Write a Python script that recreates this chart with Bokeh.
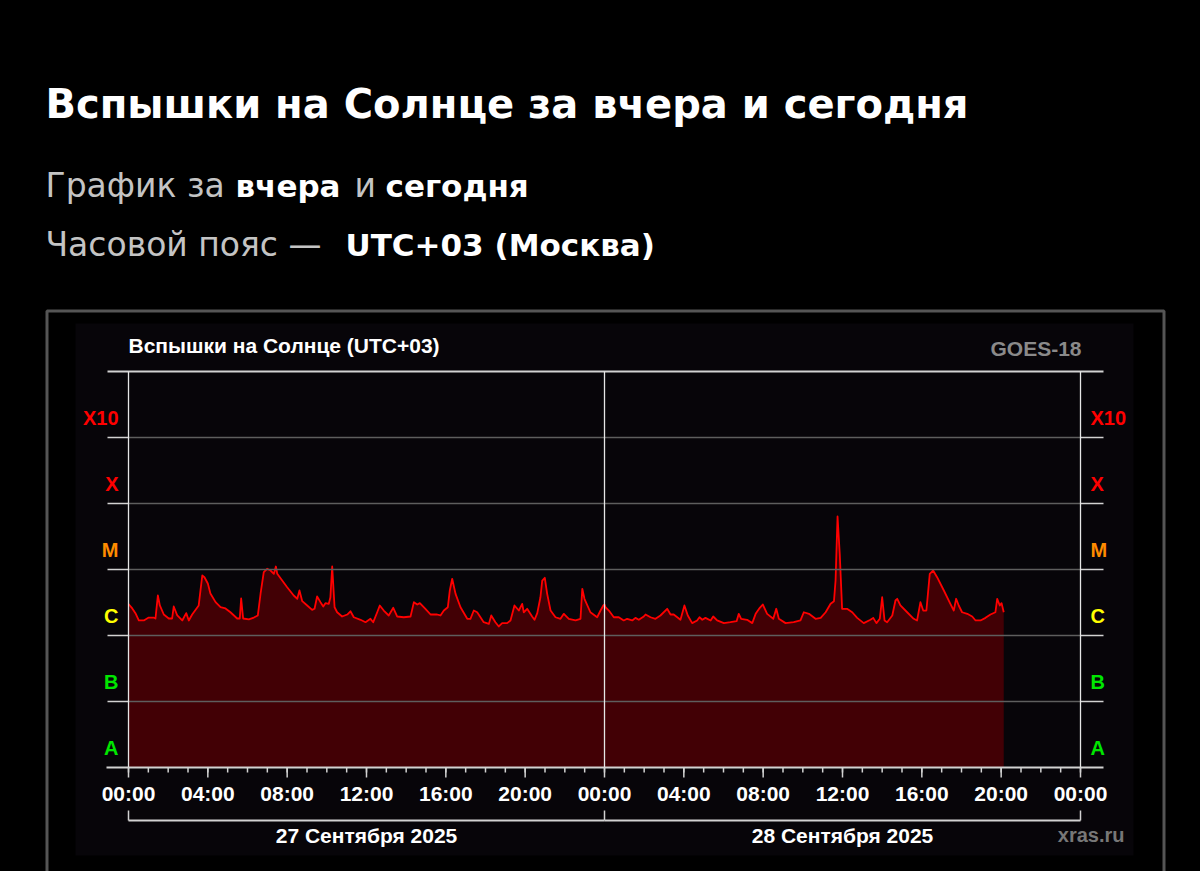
from bokeh.plotting import figure
from bokeh.models import Range1d, LinearScale, ColumnDataSource
from bokeh.core.properties import value
from bokeh.embed import file_html
from bokeh.resources import INLINE

# ---------------- data ----------------
# hours since 27 Sep 2025 00:00 (UTC+03)
hours = [0.00, 0.19, 0.35, 0.52, 0.77, 1.02, 1.26, 1.36, 1.48, 1.58, 1.78, 2.03, 2.20, 2.28, 2.46,
         2.71, 2.91, 3.04, 3.21, 3.54, 3.63, 3.72, 3.83, 4.00, 4.13, 4.39, 4.64, 4.89, 5.14, 5.48,
         5.61, 5.68, 5.78, 6.07, 6.32, 6.52, 6.66, 6.82, 6.99, 7.16, 7.33, 7.43, 7.50, 7.75, 8.00,
         8.33, 8.51, 8.62, 8.76, 9.01, 9.26, 9.38, 9.51, 9.68, 9.82, 9.93, 10.10, 10.18, 10.27, 10.39,
         10.52, 10.77, 11.03, 11.19, 11.36, 11.70,
         11.95, 12.20, 12.34, 12.54, 12.67, 12.87, 13.12, 13.35, 13.55, 13.88, 14.22, 14.39, 14.56, 14.69, 14.97,
         15.23, 15.56, 15.73, 15.90, 16.10, 16.20, 16.32, 16.49, 16.74, 17.08, 17.24, 17.41, 17.58, 17.91, 18.17,
         18.29, 18.50, 18.67, 18.84, 19.09, 19.26, 19.46, 19.68, 19.85, 19.93, 20.10, 20.35, 20.47, 20.61, 20.77,
         20.86, 20.99, 21.11, 21.28, 21.53, 21.78, 21.95, 22.20, 22.54, 22.79, 22.88, 22.99, 23.29, 23.63, 23.80,
         23.94, 24.00, 24.05, 24.22, 24.47, 24.72, 24.97, 25.14, 25.40, 25.56, 25.73, 25.98, 26.07, 26.32, 26.57,
         26.82, 27.16, 27.33, 27.49, 27.83, 28.03, 28.20, 28.42, 28.67, 28.79, 28.93, 29.09, 29.35, 29.48, 29.68,
         30.02, 30.35, 30.66, 30.77, 30.89, 31.19, 31.45, 31.62, 31.83, 31.98, 32.20, 32.51, 32.66, 32.79, 33.13,
         33.54, 33.88, 34.05, 34.31, 34.64, 34.90, 35.15, 35.40, 35.57, 35.65, 35.75, 35.86, 35.98, 36.23, 36.49,
         36.74, 37.07, 37.41, 37.55, 37.71, 37.88, 38.00, 38.12, 38.25, 38.51, 38.67, 38.76, 38.92, 39.26, 39.59,
         39.76, 39.93, 40.07, 40.23, 40.40, 40.57, 40.77, 41.11, 41.44, 41.61, 41.73, 41.86, 42.03, 42.29, 42.54,
         42.71, 42.96, 43.21, 43.46, 43.71, 43.80, 43.93, 44.02, 44.13]

# X-ray flux, in units of 1e-6 W/m^2
flux_micro = [3.0, 2.57, 2.18, 1.69, 1.69, 1.87, 1.87, 1.81, 4.04, 2.85, 2.08, 1.81, 1.81, 2.75, 2.01,
              1.69, 2.18, 1.69, 2.08, 2.85, 4.81, 8.11, 7.64, 6.14, 4.33, 3.20, 2.68, 2.57, 2.25, 1.81,
              1.81, 3.64, 1.81, 1.75, 1.87, 2.01, 4.33, 9.10, 10.25, 9.66, 8.61, 11.1, 8.61, 6.81, 5.39,
              4.04, 3.60, 4.81, 3.31, 2.85, 2.45, 2.54, 3.90, 3.20, 2.75, 3.09, 3.02, 3.80, 11.1, 2.68,
              2.25, 1.94, 2.08, 2.33, 1.89, 1.73,
              1.59, 1.79, 1.59, 2.25, 2.85, 2.39, 2.01, 2.63, 1.94, 1.89, 1.94, 3.20, 2.95, 3.09, 2.54,
              2.08, 2.08, 2.01, 2.39, 2.68, 4.81, 7.23, 4.28, 2.68, 1.79, 1.79, 2.39, 2.25, 1.59, 1.50,
              2.01, 1.59, 1.37, 1.54, 1.54, 1.69, 2.85, 2.39, 3.02, 2.25, 2.54, 1.94, 1.73, 2.18, 3.80,
              6.81, 7.48, 4.28, 2.39, 1.89, 1.79, 2.13, 1.79, 1.69, 1.79, 5.10, 3.60, 2.25, 1.89, 2.39,
              2.85, 2.95, 2.68, 2.39, 1.89, 1.89, 1.69, 1.79, 1.69, 1.85, 1.73, 1.94, 2.08, 1.89, 1.79,
              2.01, 2.54, 2.08, 2.08, 1.73, 2.85, 2.01, 1.54, 1.69, 1.89, 1.73, 1.85, 1.69, 1.94, 1.69,
              1.54, 1.59, 1.65, 2.13, 1.79, 1.73, 1.54, 2.13, 2.63, 2.95, 2.13, 1.79, 2.54, 1.79, 1.54,
              1.59, 1.69, 2.25, 2.13, 1.79, 1.85, 2.25, 3.02, 3.31, 6.81, 63.5, 17.5, 2.54, 2.54, 2.25,
              1.85, 1.54, 1.73, 1.85, 1.54, 1.79, 3.80, 1.69, 1.59, 2.01, 3.39, 3.60, 2.85, 2.25, 1.79,
              1.69, 3.20, 2.39, 2.39, 8.61, 9.66, 7.64, 4.81, 3.02, 2.39, 3.60, 2.85, 2.25, 2.13, 1.94,
              1.69, 1.69, 1.85, 2.08, 2.25, 3.60, 2.85, 3.09, 2.25]

class_labels = ["A", "B", "C", "M", "X", "X10"]
class_flux = [1e-8, 1e-7, 1e-6, 1e-5, 1e-4, 1e-3]
class_colors = ["#00e600", "#00e600", "#ffff00", "#ff8c00", "#ff0000", "#ff0000"]
top_flux = 1e-2

tick_hours = [0, 4, 8, 12, 16, 20, 24, 28, 32, 36, 40, 44, 48]
tick_labels = ["00:00", "04:00", "08:00", "12:00", "16:00", "20:00", "00:00",
               "04:00", "08:00", "12:00", "16:00", "20:00", "00:00"]
minor_hours = list(range(0, 49))
day_start = [0, 24]
day_end = [24, 48]
day_labels = ["27 Сентября 2025", "28 Сентября 2025"]

page_title = "Вспышки на Солнце за вчера и сегодня"
chart_title = "Вспышки на Солнце (UTC+03)"
satellite = "GOES-18"
credit = "xras.ru"

# ---------------- layout (page pixels) ----------------
W, H = 1200, 871
PX0, PY0 = 0, 0
X_H0 = 128.0           # page x of hour 0
PX_PER_H = 952.0 / 48  # px per hour
Y_BASE = 767.0         # page y of 1e-8
PX_PER_DEC = 66.0

t0 = (PX0 - X_H0) / PX_PER_H
t1 = (PX0 + W - X_H0) / PX_PER_H
lg_lo = -8 - (PY0 + H - Y_BASE) / PX_PER_DEC
lg_hi = -8 + (Y_BASE - PY0) / PX_PER_DEC

FONT = value("Liberation Sans")
HFONT = value("DejaVu Sans")

p = figure(width=W, height=H, x_range=Range1d(t0, t1),
           y_range=Range1d(10 ** lg_lo, 10 ** lg_hi), y_axis_type="log",
           x_axis_location=None, y_axis_location=None, title_location=None,
           output_backend="svg", toolbar_location=None, min_border=0,
           background_fill_color="#000000", border_fill_color="#000000",
           outline_line_color=None)
p.grid.visible = False
p.extra_x_ranges = {"px": Range1d(PX0, PX0 + W)}
p.extra_y_ranges = {"px": Range1d(PY0 + H, PY0)}
p.extra_x_scales = {"px": LinearScale()}
p.extra_y_scales = {"px": LinearScale()}
PX = dict(x_range_name="px", y_range_name="px")

# page header
p.text(x=[45], y=[103], text=[page_title], text_font=HFONT, text_font_size="40px",
       text_font_style="bold", text_color="#ffffff", text_baseline="middle", **PX)
GREY = "#c4c4c4"
for xx, yy, tt, bold in [(45, 185, "График за", False), (235, 185, "вчера", True),
                         (354, 185, "и", False), (385, 185, "сегодня", True),
                         (45, 244, "Часовой пояс —", False), (345, 244, "UTC+03 (Москва)", True)]:
    p.text(x=[xx], y=[yy], text=[tt], text_font=HFONT,
           text_font_size="31px" if bold else "33px",
           text_font_style="bold" if bold else "normal",
           text_color="#ffffff" if bold else GREY, text_baseline="middle", **PX)

# frame box and chart panel
p.quad(left=[46.5], right=[1163.5], top=[310.5], bottom=[920], fill_color=None,
       line_color="#555555", line_width=3, **PX)
p.quad(left=[75], right=[1133], top=[323], bottom=[855], fill_color="#070509",
       line_color=None, **PX)

# chart title / satellite
p.text(x=[128], y=[344.5], text=[chart_title], text_font=FONT, text_font_size="21px",
       text_font_style="bold", text_color="#ffffff", text_baseline="middle", **PX)
p.text(x=[1081], y=[348], text=[satellite], text_font=FONT, text_font_size="21px",
       text_font_style="bold", text_color="#8a8a8a", text_align="right",
       text_baseline="middle", **PX)

# data: filled area + line
src = ColumnDataSource(dict(t=hours, f=[v * 1e-6 for v in flux_micro],
                            base=[class_flux[0]] * len(hours)))
p.varea(x="t", y1="base", y2="f", source=src, fill_color="#420005")
p.line(x="t", y="f", source=src, line_color="#ff0000", line_width=1.8, line_join="round")

# horizontal class grid (inside) and tick stubs (outside)
LIGHT = "#d2d2d2"
p.segment(x0=[0] * 5, x1=[48] * 5, y0=class_flux[1:], y1=class_flux[1:],
          line_color="#5e5e5e", line_width=1.5)
stub_y = class_flux[1:]
p.segment(x0=[107] * 5, x1=[X_H0] * 5, y0=stub_y, y1=stub_y, line_color=LIGHT,
          line_width=1.5, x_range_name="px")
p.segment(x0=[X_H0 + 48 * PX_PER_H] * 5, x1=[1103] * 5, y0=stub_y, y1=stub_y,
          line_color=LIGHT, line_width=1.5, x_range_name="px")
# top and bottom lines
p.segment(x0=[107, 106], x1=[1103, 1103], y0=[top_flux, class_flux[0]],
          y1=[top_flux, class_flux[0]], line_color=LIGHT, line_width=1.8, x_range_name="px")
# vertical lines at day boundaries
p.segment(x0=[0, 24, 48], x1=[0, 24, 48], y0=[class_flux[0]] * 3, y1=[top_flux] * 3,
          line_color="#e6e6e6", line_width=1.3)

# class labels on both sides
p.text(x=[118] * 6, y=[v * 2 for v in class_flux], text=class_labels, text_color=class_colors,
       text_font=FONT, text_font_size="20px", text_font_style="bold", text_align="right",
       text_baseline="middle", x_range_name="px")
p.text(x=[1090] * 6, y=[v * 2 for v in class_flux], text=class_labels, text_color=class_colors,
       text_font=FONT, text_font_size="20px", text_font_style="bold", text_align="left",
       text_baseline="middle", x_range_name="px")

# time axis ticks
p.segment(x0=minor_hours, x1=minor_hours, y0=[Y_BASE] * len(minor_hours),
          y1=[Y_BASE + 5] * len(minor_hours), line_color=LIGHT, line_width=1.5, y_range_name="px")
p.segment(x0=tick_hours, x1=tick_hours, y0=[Y_BASE] * len(tick_hours),
          y1=[Y_BASE + 10] * len(tick_hours), line_color=LIGHT, line_width=1.5, y_range_name="px")
p.text(x=tick_hours, y=[792.5] * len(tick_hours), text=tick_labels, text_color="#ffffff",
       text_font=FONT, text_font_size="21px", text_font_style="bold", text_align="center",
       text_baseline="middle", y_range_name="px")

# day brackets
p.segment(x0=day_start + [day_end[-1]], x1=day_start + [day_end[-1]],
          y0=[810] * 3, y1=[820] * 3, line_color=LIGHT, line_width=1.5, y_range_name="px")
p.segment(x0=day_start, x1=day_end, y0=[820] * 2, y1=[820] * 2, line_color=LIGHT,
          line_width=1.8, y_range_name="px")
p.text(x=[(a + b) / 2 for a, b in zip(day_start, day_end)], y=[834.5] * 2, text=day_labels,
       text_color="#ffffff", text_font=FONT, text_font_size="21px", text_font_style="bold",
       text_align="center", text_baseline="middle", y_range_name="px")
p.text(x=[1124], y=[834.5], text=[credit], text_color="#777777", text_font=FONT,
       text_font_size="20px", text_font_style="bold", text_align="right",
       text_baseline="middle", **PX)

html = file_html(p, INLINE, title="Вспышки на Солнце")
html = html.replace("</head>", "<style>html,body{background:#000000;}</style></head>", 1)
open("out.html", "w").write(html)
